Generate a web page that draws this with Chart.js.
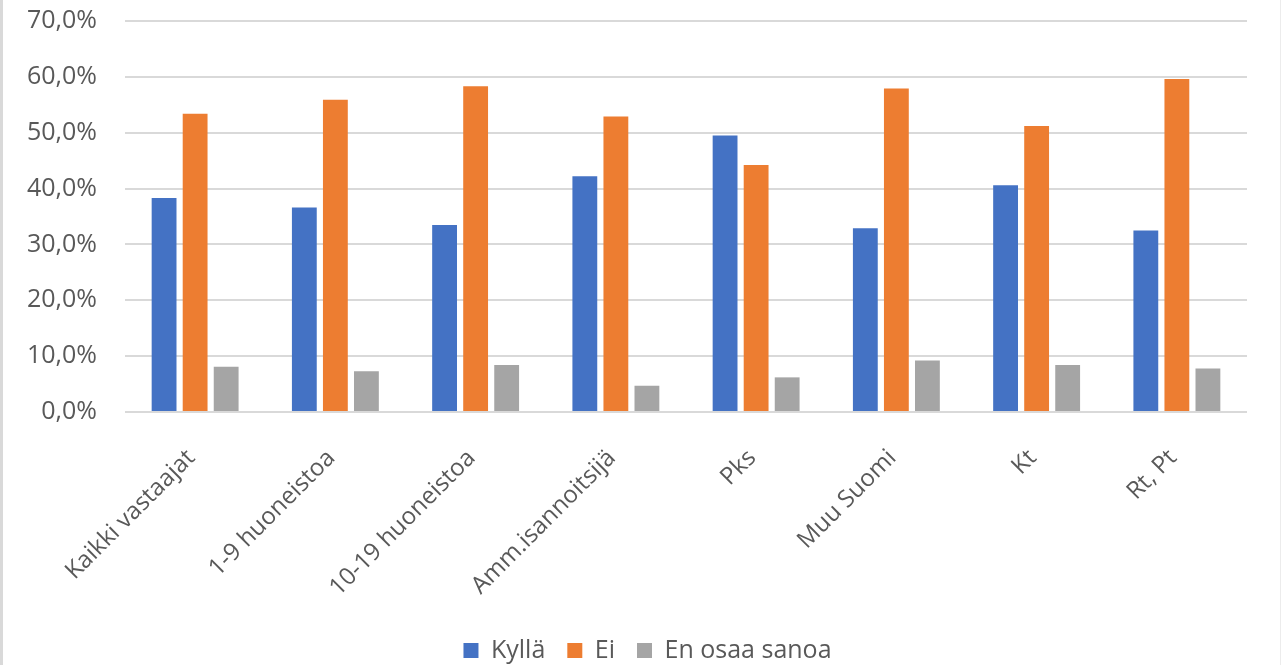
<html>
    <head>
        <title>Kyllä / Ei / En osaa sanoa</title>
        <style>
            html, body { margin: 0; padding: 0; background: #fff; }
            #frame {
                position: absolute; left: 0; top: 0;
                width: 1281px; height: 665px;
                box-sizing: border-box;
                border-left: 3px solid #d9d9d9;
                border-right: 1px solid #ececec;
            }
            #wrap { position: absolute; left: 0; top: 0; width: 1281px; height: 665px; }
        </style>
    </head>
    <body>
        <div id="frame"></div>
        <div id="wrap"><canvas id="myChart"></canvas></div>
        <script src="https://cdn.jsdelivr.net/npm/chart.js"></script>
        <script>
            // categories (x axis)
            var categories = ["Kaikki vastaajat", "1-9 huoneistoa", "10-19 huoneistoa", "Amm.isannoitsijä",
                              "Pks", "Muu Suomi", "Kt", "Rt, Pt"];

            // series, in percent
            var kylla = [38.3, 36.6, 33.5, 42.2, 49.5, 32.9, 40.6, 32.5];
            var ei = [53.4, 55.9, 58.3, 52.9, 44.2, 57.9, 51.2, 59.6];
            var enOsaa = [8.1, 7.3, 8.4, 4.7, 6.2, 9.2, 8.4, 7.8];

            // y axis ticks
            var yTicks = [0, 10, 20, 30, 40, 50, 60, 70];

            var textColor = '#595959';
            var fontFamily = '"Open Sans", sans-serif';

            // legend is centred on the whole picture, not on the padded area
            var legendShift = {
                id: 'legendShift',
                afterLayout: function (chart) {
                    chart.legend.left += 24;
                    chart.legend.right += 24;
                }
            };

            var ctx = document.getElementById('myChart').getContext('2d');
            var chart = new Chart(ctx, {
                type: 'bar',
                data: {
                    labels: categories,
                    datasets: [{
                        label: 'Kyllä',
                        backgroundColor: '#4472C4',
                        data: kylla
                    }, {
                        label: 'Ei',
                        backgroundColor: '#ED7D31',
                        data: ei
                    }, {
                        label: 'En osaa sanoa',
                        backgroundColor: '#A5A5A5',
                        data: enOsaa
                    }]
                },
                options: {
                    responsive: true,
                    maintainAspectRatio: false,
                    animation: false,
                    categoryPercentage: 0.664,
                    barPercentage: 0.8,
                    layout: { padding: { left: 0, right: 34, top: 21, bottom: -8 } },
                    plugins: {
                        tooltip: { enabled: false },
                        legend: {
                            position: 'bottom',
                            labels: {
                                color: textColor,
                                font: { family: fontFamily, size: 25 },
                                boxWidth: 15,
                                boxHeight: 15,
                                padding: 22
                            }
                        }
                    },
                    scales: {
                        x: {
                            grid: { display: false },
                            border: { display: false },
                            ticks: {
                                color: textColor,
                                font: { family: fontFamily, size: 24 },
                                minRotation: 45,
                                maxRotation: 45,
                                padding: 24,
                                labelOffset: -4
                            },
                            afterFit: function (scale) { scale.height = 204; }
                        },
                        y: {
                            min: 0,
                            max: 70,
                            afterBuildTicks: function (scale) {
                                scale.ticks = yTicks.map(function (v) { return { value: v }; });
                            },
                            grid: { color: '#d9d9d9', lineWidth: 2, drawTicks: true, tickLength: 28, tickColor: 'rgba(0,0,0,0)' },
                            border: { display: false },
                            ticks: {
                                color: textColor,
                                font: { family: fontFamily, size: 25 },
                                padding: 0,
                                callback: function (v) { return v.toFixed(1).replace('.', ',') + '%'; }
                            },
                            afterFit: function (scale) { scale.width = 125; }
                        }
                    }
                },
                plugins: [legendShift]
            });
        </script>
    </body>
</html>
